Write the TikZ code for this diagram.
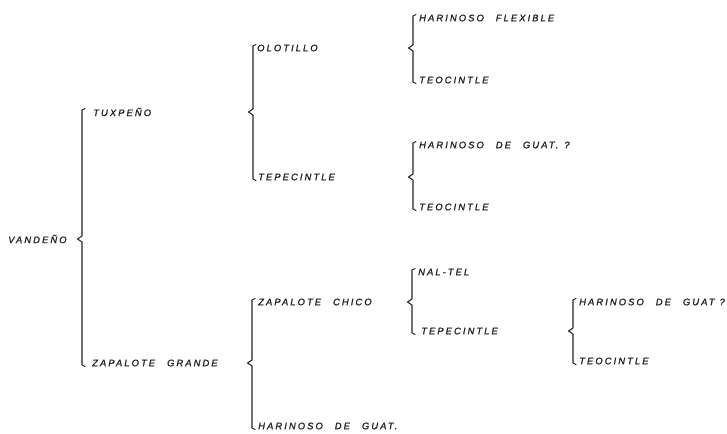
\documentclass[tikz,border=0pt]{standalone}
\usepackage{fontspec}
\setmainfont{Liberation Sans}
\newfontfamily\lettering[LetterSpace=22,FakeBold=1.2]{Liberation Sans}
\usetikzlibrary{calc}
\newcommand\W{\hspace{12pt}}
\tikzset{
  lbl/.style={anchor=west, inner sep=0pt, text=black!88,
    font=\lettering\itshape\fontsize{9.4}{11}\selectfont},
  brace/.style={draw=black!85, line width=1.1pt, line join=round, line cap=round},
}
% #1 bracket x, #2 top child, #3 bottom child, #4 parent
\newcommand\brk[4]{%
  \draw[brace] let \p1=(#2.west), \p2=(#3.west), \p3=(#4.east) in
    (#1pt+3pt,\y1+3.5pt) -- (#1pt,\y1+2pt) -- (#1pt,\y3+3pt) -- (#1pt-4.5pt,\y3)
    -- (#1pt,\y3-3pt) -- (#1pt,\y2-2pt) -- (#1pt+3pt,\y2-3.5pt);}
\begin{document}
\begin{tikzpicture}[x=1pt,y=-1pt]
\useasboundingbox[fill=white] (0,0) rectangle (727,433);
\node[lbl] (van)  at (8,239)   {VANDEÑO};
\node[lbl] (tux)  at (93,112)  {TUXPEÑO};
\node[lbl] (zg)   at (92,363)  {ZAPALOTE\W GRANDE};
\node[lbl] (olo)  at (257,48)  {OLOTILLO};
\node[lbl] (tep1) at (258,177) {TEPECINTLE};
\node[lbl] (zc)   at (258,302) {ZAPALOTE\W CHICO};
\node[lbl] (hg1)  at (258,426) {HARINOSO\W DE\W GUAT.};
\node[lbl] (hf)   at (419,18)  {HARINOSO\W FLEXIBLE};
\node[lbl] (teo1) at (419,80)  {TEOCINTLE};
\node[lbl] (hg2)  at (419,145) {HARINOSO\W DE\W GUAT.\kern6pt?};
\node[lbl] (teo2) at (419,207) {TEOCINTLE};
\node[lbl] (nal)  at (418,272) {NAL\kern2pt-TEL};
\node[lbl] (tep2) at (421,331) {TEPECINTLE};
\node[lbl] (hg3)  at (579,302) {HARINOSO\W DE\W GUAT\kern5pt?};
\node[lbl] (teo3) at (579,361) {TEOCINTLE};
\brk{82}{tux}{zg}{van}
\brk{253}{olo}{tep1}{tux}
\brk{413}{hf}{teo1}{olo}
\brk{413}{hg2}{teo2}{tep1}
\brk{252}{zc}{hg1}{zg}
\brk{412}{nal}{tep2}{zc}
\brk{573}{hg3}{teo3}{tep2}
\end{tikzpicture}
\end{document}
